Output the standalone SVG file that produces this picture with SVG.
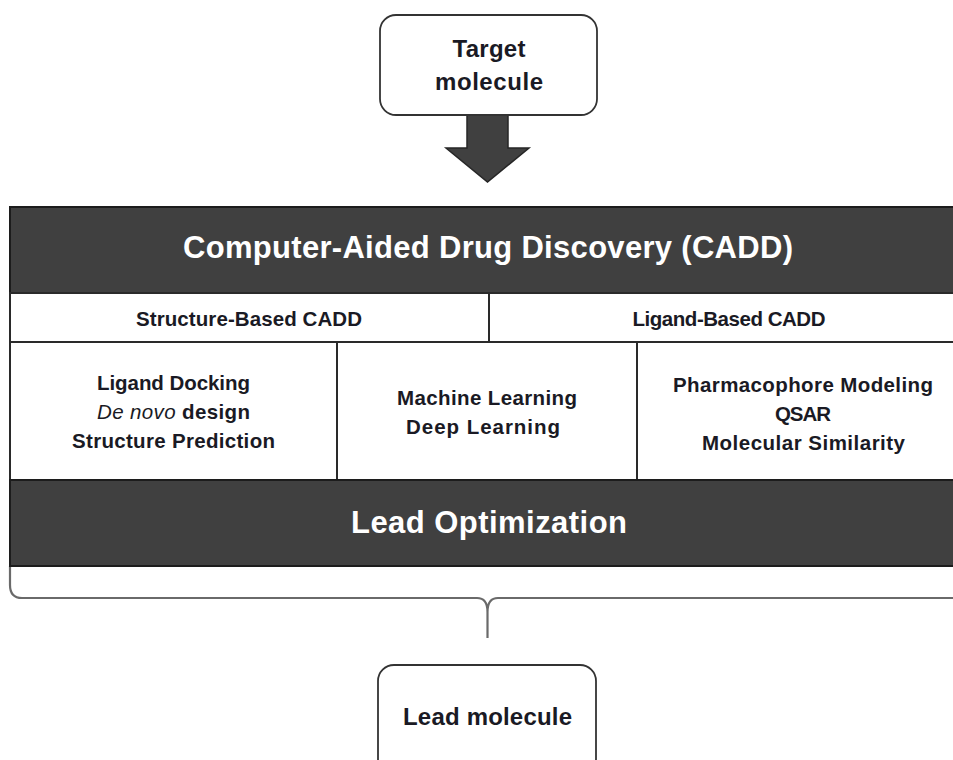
<svg xmlns="http://www.w3.org/2000/svg" width="953" height="760" viewBox="0 0 953 760">
<style>
text{font-family:"Liberation Sans",Arial,sans-serif;font-weight:bold;text-anchor:middle;fill:#1a1a24}
.w{fill:#ffffff}
.big{font-size:31px}
.mid{font-size:24px}
.sm{font-size:20.5px}
.box{fill:#ffffff;stroke:#333333;stroke-width:1.8}
.dark{fill:#404040;stroke:#1c1c1c;stroke-width:2}
.cell{fill:#ffffff;stroke:#2a2a2a;stroke-width:2}
.brace{fill:none;stroke:#6a6a6a;stroke-width:2.2}
.arrow{fill:#404040;stroke:#262626;stroke-width:1.5}
</style>
<rect width="953" height="760" fill="#ffffff"/>
<g id="connectors">
<polygon class="arrow" points="467,115 508,115 508,148 529,148 487.5,182 446,148 467,148"/>
<path class="brace" d="M10,566 L10,585 Q10,598 22,598 L477,598 Q487.5,598 487.5,612 L487.5,638 M487.5,612 Q487.5,598 498,598 L960,598"/>
</g>
<g id="target">
<rect class="box" x="380" y="15" width="217" height="100" rx="16"/>
<text class="mid" x="489" y="57" textLength="73">Target</text>
<text class="mid" x="489" y="90" textLength="108">molecule</text>
</g>
<g id="cadd">
<rect class="dark" x="10" y="207" width="960" height="86"/>
<text class="big w" x="488" y="258" textLength="610">Computer-Aided Drug Discovery (CADD)</text>
</g>
<g id="structure-based">
<rect class="cell" x="10" y="293" width="479" height="49"/>
<text class="sm" x="249" y="326" textLength="226">Structure-Based CADD</text>
</g>
<g id="ligand-based">
<rect class="cell" x="489" y="293" width="480" height="49"/>
<text class="sm" x="729" y="326" textLength="193">Ligand-Based CADD</text>
</g>
<g id="sb-methods">
<rect class="cell" x="10" y="342" width="327" height="138"/>
<text class="sm" x="173.5" y="390" textLength="153">Ligand Docking</text>
<text class="sm" x="173.5" y="419" textLength="153"><tspan font-style="italic" font-weight="normal">De novo</tspan> design</text>
<text class="sm" x="173.5" y="448" textLength="203">Structure Prediction</text>
</g>
<g id="ml-methods">
<rect class="cell" x="337" y="342" width="300" height="138"/>
<text class="sm" x="487" y="405" textLength="180">Machine Learning</text>
<text class="sm" x="483" y="434" textLength="154">Deep Learning</text>
</g>
<g id="lb-methods">
<rect class="cell" x="637" y="342" width="330" height="138"/>
<text class="sm" x="803" y="392" textLength="260">Pharmacophore Modeling</text>
<text class="sm" x="803" y="421" textLength="56">QSAR</text>
<text class="sm" x="803.5" y="450" textLength="203">Molecular Similarity</text>
</g>
<g id="lead-optimization">
<rect class="dark" x="10" y="480" width="960" height="86"/>
<text class="big w" x="489" y="533" textLength="276">Lead Optimization</text>
</g>
<g id="lead-molecule">
<rect class="box" x="378" y="665" width="218" height="110" rx="16"/>
<text class="mid" x="487.5" y="725" textLength="169">Lead molecule</text>
</g>
</svg>
